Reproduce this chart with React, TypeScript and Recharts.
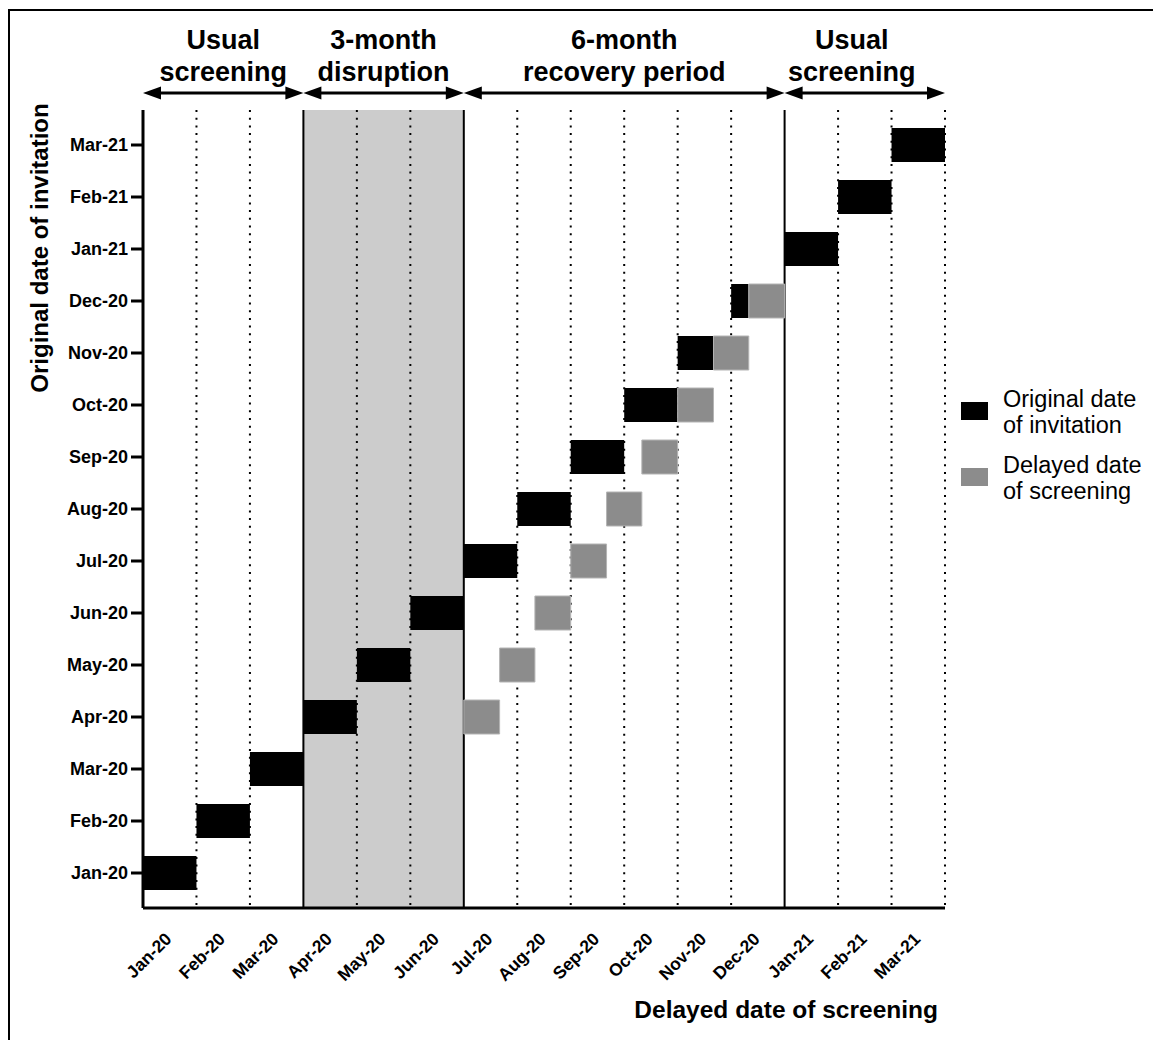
import React from 'react';
import { BarChart, Bar, XAxis, YAxis, CartesianGrid, Legend } from 'recharts';

const FONT = "'Liberation Sans', Arial, Helvetica, sans-serif";

// rows (original date of invitation) and columns (delayed date of screening) share the same months
const MONTHS = [
  'Jan-20', 'Feb-20', 'Mar-20', 'Apr-20', 'May-20', 'Jun-20', 'Jul-20', 'Aug-20',
  'Sep-20', 'Oct-20', 'Nov-20', 'Dec-20', 'Jan-21', 'Feb-21', 'Mar-21',
];

// months counted from the start of Jan-20
const INVITE_START = [0, 1, 2, 3, 4, 5, 6, 7, 8, 9, 10, 11, 12, 13, 14];
const INVITE_END = [1, 2, 3, 4, 5, 6, 7, 8, 9, 10, 10.67, 11.33, 13, 14, 15];
const SCREEN_START = [null, null, null, 6, 6.67, 7.33, 8, 8.67, 9.33, 10, 10.67, 11.33, null, null, null];
const SCREEN_END = [null, null, null, 6.67, 7.33, 8, 8.67, 9.33, 10, 10.67, 11.33, 12, null, null, null];

const TICK_VALUES = [0.5, 1.5, 2.5, 3.5, 4.5, 5.5, 6.5, 7.5, 8.5, 9.5, 10.5, 11.5, 12.5, 13.5, 14.5];
const ALL_BOUNDS = [0, 1, 2, 3, 4, 5, 6, 7, 8, 9, 10, 11, 12, 13, 14, 15];
const DOTTED_LINES = [1, 2, 4, 5, 7, 8, 9, 10, 11, 13, 14, 15];
const SOLID_LINES = [3, 6, 12];
const SHADED_MONTHS = [3, 4, 5];

const PERIOD_BOUNDS = [0, 3, 6, 12, 15];
const PERIOD_LABELS = [
  ['Usual', 'screening'],
  ['3-month', 'disruption'],
  ['6-month', 'recovery period'],
  ['Usual', 'screening'],
];
const PERIOD_LABEL_SHIFT = [0, 0, 0, -13];

const LEGEND_ORDER = ['invite', 'screen'];

const W = 1153;
const H = 1040;
const PLOT_LEFT = 143;
const PLOT_RIGHT = 945;
const PLOT_TOP = 110;
const PLOT_BOTTOM = 908;
const X_AXIS_H = 60;
const Y_AXIS_W = 80;

const data = MONTHS.map((name, i) => ({
  name,
  lead: INVITE_START[i],
  invite: INVITE_END[i] - INVITE_START[i],
  gap: SCREEN_START[i] == null ? 0 : SCREEN_START[i] - INVITE_END[i],
  screen: SCREEN_START[i] == null ? 0 : SCREEN_END[i] - SCREEN_START[i],
}));

const monthX = (m: number) => PLOT_LEFT + (m / 15) * (PLOT_RIGHT - PLOT_LEFT);

const MonthTick = ({ x, y, payload }: any) => {
  const tx = x + 3;
  const ty = y + 24;
  return (
    <text
      x={tx}
      y={ty}
      transform={`rotate(-45, ${tx}, ${ty})`}
      textAnchor="end"
      fontSize={17.5}
      fontWeight="bold"
      fontFamily={FONT}
      fill="#000"
    >
      {MONTHS[Math.floor(payload.value)]}
    </text>
  );
};

const LegendContent = ({ payload }: any) => {
  const items = (payload || [])
    .filter((p: any) => LEGEND_ORDER.includes(p.dataKey))
    .sort((a: any, b: any) => LEGEND_ORDER.indexOf(a.dataKey) - LEGEND_ORDER.indexOf(b.dataKey));
  return (
    <div style={{ position: 'relative', width: 192, height: 132, fontFamily: FONT }}>
      {items.map((entry: any, i: number) => (
        <div key={entry.value} style={{ position: 'absolute', left: 0, top: i * 66, width: 192 }}>
          <div style={{ position: 'absolute', left: 0, top: 16, width: 27, height: 18, background: entry.color }} />
          <div style={{ position: 'absolute', left: 42, top: 0, width: 152, fontSize: 23.5, lineHeight: '26px', color: '#000' }}>
            {entry.value}
          </div>
        </div>
      ))}
    </div>
  );
};

const Arrow = ({ x1, x2, y }: { x1: number; x2: number; y: number }) => (
  <g>
    <line x1={x1 + 10} x2={x2 - 10} y1={y} y2={y} stroke="#000" strokeWidth={3} />
    <polygon points={`${x1},${y} ${x1 + 18},${y - 6.5} ${x1 + 18},${y + 6.5}`} fill="#000" />
    <polygon points={`${x2},${y} ${x2 - 18},${y - 6.5} ${x2 - 18},${y + 6.5}`} fill="#000" />
  </g>
);

export default function App() {
  return (
    <div style={{ position: 'absolute', left: 0, top: 0, width: W, height: H, background: '#fff', overflow: 'hidden' }}>
      <BarChart
        width={W}
        height={H}
        data={data}
        layout="vertical"
        barSize={34}
        margin={{ top: PLOT_TOP, right: W - PLOT_RIGHT, bottom: H - PLOT_BOTTOM - X_AXIS_H, left: PLOT_LEFT - Y_AXIS_W }}
      >
        <CartesianGrid
          horizontal={false}
          verticalValues={ALL_BOUNDS}
          stroke="none"
          verticalFill={ALL_BOUNDS.map((m) => (SHADED_MONTHS.includes(m) ? '#cccccc' : 'none'))}
          fillOpacity={1}
        />
        <CartesianGrid horizontal={false} verticalValues={DOTTED_LINES} stroke="#000" strokeWidth={2} strokeDasharray="2 5.7" />
        <CartesianGrid horizontal={false} verticalValues={SOLID_LINES} stroke="#000" strokeWidth={2} />
        <XAxis
          type="number"
          domain={[0, 15]}
          ticks={TICK_VALUES}
          interval={0}
          height={X_AXIS_H}
          tickLine={false}
          axisLine={{ stroke: '#000', strokeWidth: 3 }}
          tick={<MonthTick />}
        />
        <YAxis
          type="category"
          dataKey="name"
          reversed
          width={Y_AXIS_W}
          padding={{ top: 9, bottom: 9 }}
          interval={0}
          tickSize={12}
          tickMargin={3}
          tickLine={{ stroke: '#000', strokeWidth: 3 }}
          axisLine={{ stroke: '#000', strokeWidth: 3 }}
          tick={{ fill: '#000', fontSize: 18, fontWeight: 'bold', fontFamily: FONT }}
        />
        <Bar dataKey="lead" stackId="t" fill="transparent" legendType="none" isAnimationActive={false} />
        <Bar dataKey="invite" name="Original date of invitation" stackId="t" fill="#000000" isAnimationActive={false} />
        <Bar dataKey="gap" stackId="t" fill="transparent" legendType="none" isAnimationActive={false} />
        <Bar
          dataKey="screen"
          name="Delayed date of screening"
          stackId="t"
          fill="#8c8c8c"
          stroke="#b4b4b4"
          strokeWidth={1}
          isAnimationActive={false}
        />
        <Legend
          layout="horizontal"
          verticalAlign="middle"
          align="center"
          wrapperStyle={{ left: 961, top: 386, width: 192, height: 132 }}
          content={<LegendContent />}
        />
      </BarChart>

      <svg
        width={W}
        height={H}
        style={{ position: 'absolute', left: 0, top: 0, pointerEvents: 'none' }}
        fontFamily={FONT}
      >
        <line x1={9} x2={9} y1={10} y2={H} stroke="#000" strokeWidth={2} />
        <line x1={8} x2={W} y1={10} y2={10} stroke="#000" strokeWidth={2} />

        {PERIOD_LABELS.map((lines, i) => {
          const x1 = monthX(PERIOD_BOUNDS[i]);
          const x2 = monthX(PERIOD_BOUNDS[i + 1]);
          const cx = (x1 + x2) / 2 + PERIOD_LABEL_SHIFT[i];
          return (
            <g key={i}>
              <text x={cx} y={49} textAnchor="middle" fontSize={27} fontWeight="bold" fill="#000">
                {lines[0]}
              </text>
              <text x={cx} y={81} textAnchor="middle" fontSize={27} fontWeight="bold" fill="#000">
                {lines[1]}
              </text>
              <Arrow x1={x1} x2={x2} y={93} />
            </g>
          );
        })}

        <text
          x={48}
          y={248}
          transform="rotate(-90, 48, 248)"
          textAnchor="middle"
          fontSize={24}
          fontWeight="bold"
          fill="#000"
        >
          Original date of invitation
        </text>
        <text x={938} y={1018} textAnchor="end" fontSize={24.5} fontWeight="bold" fill="#000">
          Delayed date of screening
        </text>
      </svg>
    </div>
  );
}
